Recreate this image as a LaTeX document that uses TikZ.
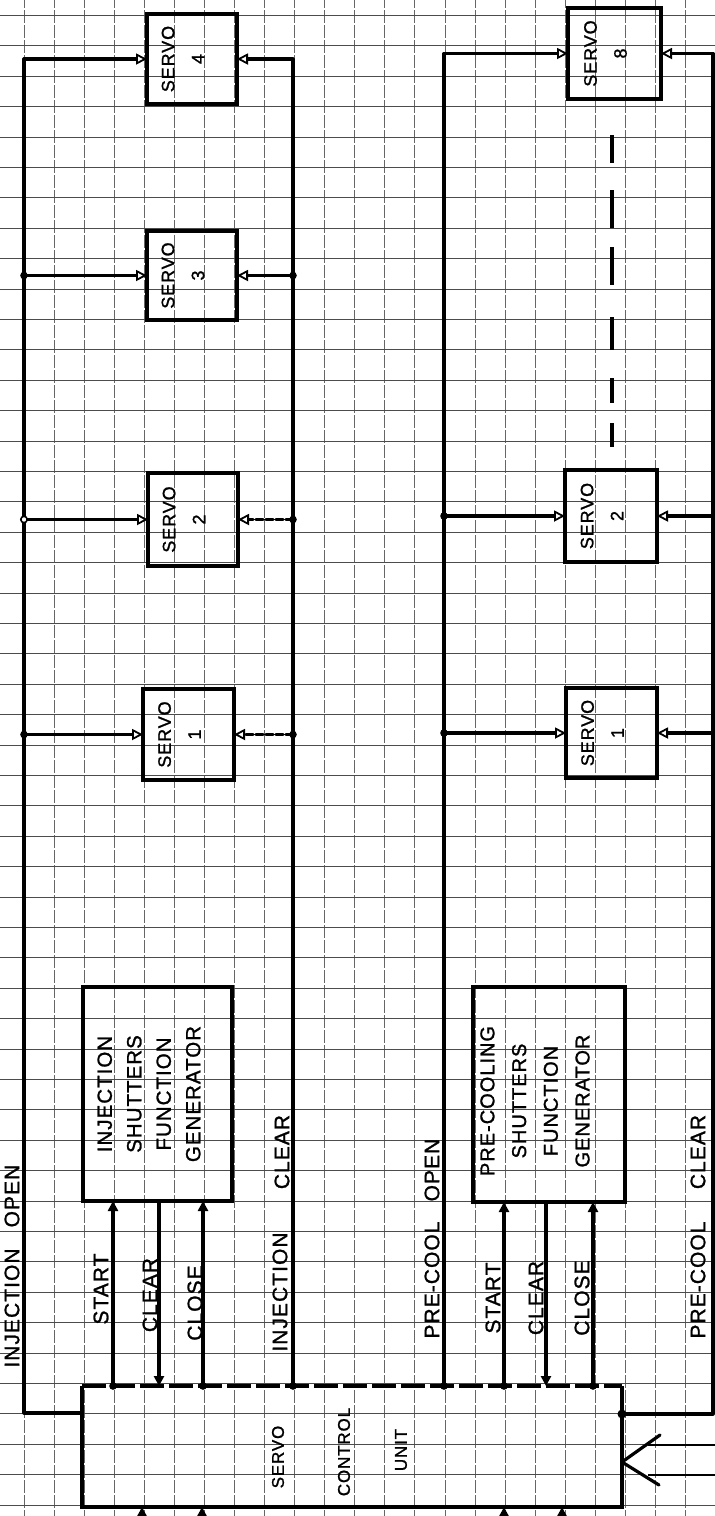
\documentclass[tikz,border=0pt]{standalone}
\usepackage{fontspec}
\setmainfont{Liberation Sans}
\newfontfamily\handfont[LetterSpace=5,FakeBold=1.2]{Liberation Sans}
\usetikzlibrary{arrows.meta}
\tikzset{
  busline/.style={line width=3.2pt, line cap=round, line join=round},
  boxst/.style={draw, line width=3.2pt, inner sep=0pt, outer sep=0pt},
  gridh/.style={line width=1.1pt, black!70},
  gridv/.style={line width=1pt, black!60, dash pattern=on 13pt off 2pt},
  servotip/.style={-{Triangle[open, length=11pt, width=11pt, line width=1.8pt]}},
  gentip/.style={-{Triangle[length=10pt, width=10pt]}},
  lbl/.style={rotate=90, inner sep=0pt, font=\handfont\fontsize{21}{21}\selectfont},
  scutxt/.style={rotate=90, inner sep=0pt, font=\handfont\fontsize{17}{17}\selectfont},
  stxt/.style={rotate=90, inner sep=0pt, align=center, font=\handfont\fontsize{18}{30}\selectfont},
  gtxt/.style={rotate=90, inner sep=0pt, align=center, font=\handfont\fontsize{20.5}{29.5}\selectfont},
  gtxtb/.style={rotate=90, inner sep=0pt, align=center, font=\handfont\fontsize{20}{31.7}\selectfont},
  dashln/.style={dash pattern=on 7pt off 3pt}
}
\begin{document}
\begin{tikzpicture}[x=1pt,y=-1pt]
\useasboundingbox (0,0) rectangle (715,1516);
\clip (0,0) rectangle (715,1516);
\fill[white] (0,0) rectangle (715,1516);

% grid paper
\foreach \k in {0,...,23} \draw[gridv] ({24.3+30.05*\k},-5) -- ({24.3+30.05*\k},1521);
\foreach \j in {0,...,49} \draw[gridh] (-5,{15.5+30.4*\j}) -- (720,{15.5+30.4*\j});

% blank inside the broad arrow head
\coordinate (bt) at (622,1462);
\fill[white] (bt) -- (649,1443) -- (649,1477) -- cycle;

% boxes
\node[inner sep=0pt, outer sep=0pt, minimum width=540pt, minimum height=121pt] (scu) at (352,1446.5) {};
\draw[line width=3.2pt] (scu.north west) -- (scu.south west) -- (scu.south east) -- (scu.north east);
\draw[line width=3.2pt, dash pattern=on 24pt off 5pt] (scu.north west) -- (scu.north east);

\node[boxst, minimum width=149pt, minimum height=214pt] (ig) at (157.5,1094) {};
\node[boxst, minimum width=152pt, minimum height=215pt] (pg) at (549,1094.5) {};

\node[boxst, minimum width=91pt, minimum height=91pt] (is1) at (188.5,734.5) {};
\node[boxst, minimum width=90pt, minimum height=93pt] (is2) at (193,519.5) {};
\node[boxst, minimum width=90pt, minimum height=89pt] (is3) at (192,275.5) {};
\node[boxst, minimum width=90pt, minimum height=90pt] (is4) at (192,59) {};
\node[boxst, minimum width=91pt, minimum height=90pt] (ps1) at (611.5,733) {};
\node[boxst, minimum width=92pt, minimum height=92pt] (ps2) at (611,516) {};
\node[boxst, minimum width=93pt, minimum height=91pt] (ps8) at (614.5,53.5) {};

% INJECTION OPEN bus
\coordinate (ioA) at (82,1413);
\coordinate (ioB) at (24,1413);
\coordinate (ioT) at (24,59);
\draw[busline, servotip] (ioA) -- (ioB) -- (ioT) -- (is4.west);
\draw[busline, servotip] (ioB |- is3.west) -- (is3.west);
\draw[busline, servotip] (ioB |- is2.west) -- (is2.west);
\draw[busline, servotip] (ioB |- is1.west) -- (is1.west);
\fill (ioB |- is3.west) circle (3.8);
\filldraw[fill=white, line width=1.6pt] (ioB |- is2.west) circle (3.2);
\fill (ioB |- is1.west) circle (3.8);

% INJECTION CLEAR bus
\coordinate (icS) at (293,1386);
\coordinate (icT) at (293,59);
\draw[busline, servotip] (icS) -- (icT) -- (is4.east);
\draw[busline, servotip] (icT |- is3.east) -- (is3.east);
\draw[busline, servotip, dashln] (icT |- is2.east) -- (is2.east);
\draw[busline, servotip, dashln] (icT |- is1.east) -- (is1.east);
\fill (icT |- is3.east) circle (3.8);
\fill (icT |- is2.east) circle (3.8);
\fill (icT |- is1.east) circle (3.8);
\fill (icS) circle (3.8);

% PRE-COOL OPEN bus
\coordinate (poS) at (444,1386);
\coordinate (poT) at (444,53.5);
\draw[busline, servotip] (poS) -- (poT) -- (ps8.west);
\draw[busline, servotip] (poT |- ps2.west) -- (ps2.west);
\draw[busline, servotip] (poT |- ps1.west) -- (ps1.west);
\fill (poT |- ps2.west) circle (3.8);
\fill (poT |- ps1.west) circle (3.8);
\fill (poS) circle (3.8);

% PRE-COOL CLEAR bus
\coordinate (pcS) at (622,1414);
\coordinate (pcB) at (713,1414);
\coordinate (pcT) at (713,53.5);
\draw[busline, servotip] (pcS) -- (pcB) -- (pcT) -- (ps8.east);
\draw[busline, servotip] (pcB |- ps2.east) -- (ps2.east);
\draw[busline, servotip] (pcB |- ps1.east) -- (ps1.east);
\fill (pcS) circle (4.5);

% omitted servos 3..7 (pre-cool)
\draw[line width=3.4pt] (612,135) -- (612,163) (612,190) -- (612,228) (612,247) -- (612,285)
  (612,317) -- (612,350) (612,378) -- (612,403) (612,423) -- (612,447);

% generator connections
\coordinate (s1) at (113,1386);
\coordinate (c1) at (159,1201);
\coordinate (l1) at (203,1386);
\coordinate (s2) at (504,1386);
\coordinate (c2) at (546,1202);
\coordinate (l2) at (593,1386);
\draw[busline, gentip] (s1) -- (s1 |- ig.south);
\draw[busline, gentip] (c1) -- (c1 |- scu.north);
\draw[busline, gentip] (l1) -- (l1 |- ig.south);
\draw[busline, gentip] (s2) -- (s2 |- pg.south);
\draw[busline, gentip] (c2) -- (c2 |- scu.north);
\draw[busline, gentip] (l2) -- (l2 |- pg.south);
\fill (s1) circle (3.8);
\fill (l1) circle (3.8);
\fill (s2) circle (3.8);
\fill (l2) circle (3.8);

% inputs from below
\coordinate (b1) at (142,1530);
\coordinate (b2) at (202,1530);
\coordinate (b3) at (504,1530);
\coordinate (b4) at (562,1530);
\draw[busline, gentip] (b1) -- (b1 |- scu.south);
\draw[busline, gentip] (b2) -- (b2 |- scu.south);
\draw[busline, gentip] (b3) -- (b3 |- scu.south);
\draw[busline, gentip] (b4) -- (b4 |- scu.south);

% broad input arrow on the right
\coordinate (bw1) at (660,1435);
\coordinate (bw2) at (659,1485);
\coordinate (bs1) at (648,1445);
\coordinate (bs2) at (648,1475);
\coordinate (be1) at (720,1445);
\coordinate (be2) at (720,1475);
\draw[busline] (bw1) -- (bt) -- (bw2);
\draw[line width=2.4pt] (bs1) -- (be1);
\draw[line width=2.4pt] (bs2) -- (be2);

% texts
\node[lbl] (tIO1) at (12,1308) {INJECTION};
\node[lbl] (tIO2) at (12,1196) {OPEN};
\node[lbl] (tS1) at (101,1289) {START};
\node[lbl] (tC1) at (150,1295) {CLEAR};
\node[lbl] (tL1) at (195,1303) {CLOSE};
\node[lbl] (tIC1) at (280,1292) {INJECTION};
\node[lbl] (tIC2) at (282,1152) {CLEAR};
\node[lbl] (tPO1) at (432,1280) {PRE-COOL};
\node[lbl] (tPO2) at (432,1170) {OPEN};
\node[lbl] (tS2) at (493,1298) {START};
\node[lbl] (tC2) at (536,1298) {CLEAR};
\node[lbl] (tL2) at (582,1298) {CLOSE};
\node[lbl] (tPC1) at (698,1280) {PRE-COOL};
\node[lbl] (tPC2) at (698,1152) {CLEAR};

\node[scutxt] (tU1) at (278,1457) {SERVO};
\node[scutxt] (tU2) at (344,1452) {CONTROL};
\node[scutxt] (tU3) at (401,1450) {UNIT};

\node[gtxt] (tIG) at (149,1094) {INJECTION\\SHUTTERS\\FUNCTION\\GENERATOR};
\node[gtxtb] (tPG) at (535,1101) {PRE-COOLING\\SHUTTERS\\FUNCTION\\GENERATOR};

\node[stxt] (tis1) at ([xshift=-9pt]is1.center) {SERVO\\1};
\node[stxt] (tis2) at ([xshift=-9pt]is2.center) {SERVO\\2};
\node[stxt] (tis3) at ([xshift=-9pt]is3.center) {SERVO\\3};
\node[stxt] (tis4) at ([xshift=-9pt]is4.center) {SERVO\\4};
\node[stxt] (tps1) at ([xshift=-9pt]ps1.center) {SERVO\\1};
\node[stxt] (tps2) at ([xshift=-9pt]ps2.center) {SERVO\\2};
\node[stxt] (tps8) at ([xshift=-9pt]ps8.center) {SERVO\\8};
\end{tikzpicture}
\end{document}
